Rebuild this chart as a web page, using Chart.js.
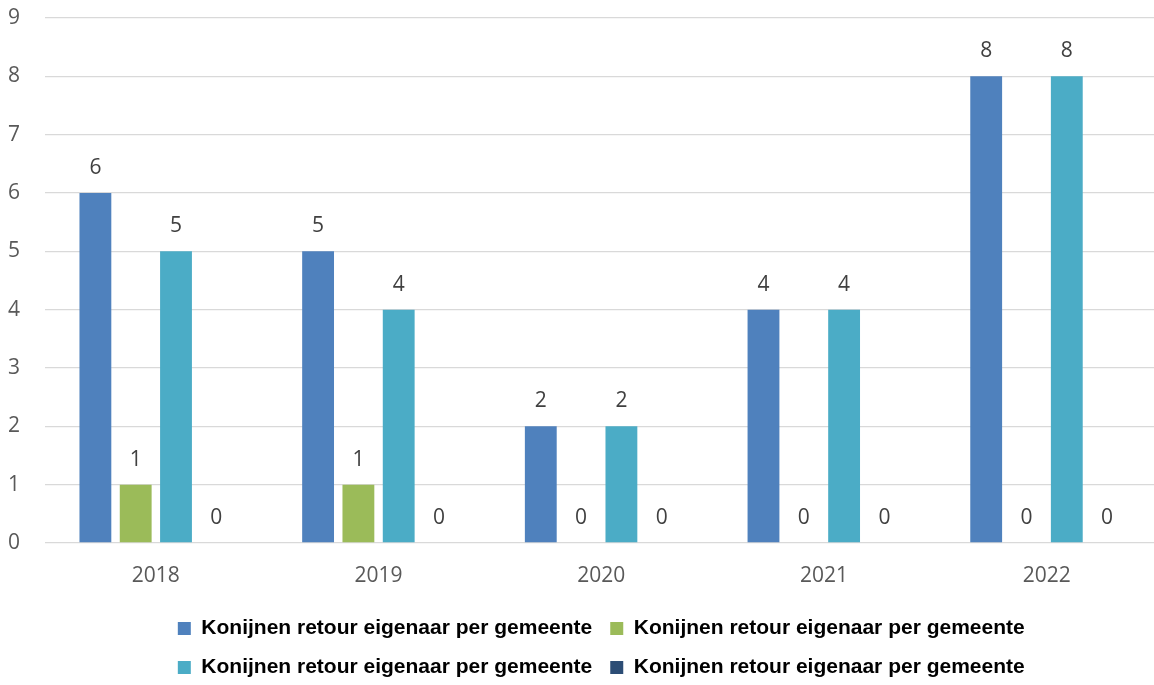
<!DOCTYPE html>
<html>
<head>
<meta charset="utf-8">
<script src="https://cdn.jsdelivr.net/npm/chart.js@4.4.1/dist/chart.umd.min.js"></script>
<style>
html,body{margin:0;padding:0;background:#fff;overflow:hidden;}
#wrap{position:relative;width:1158px;height:685px;}
</style>
</head>
<body>
<div id="wrap"><canvas id="c" width="1158" height="685"></canvas></div>
<script>
const categories = ["2018", "2019", "2020", "2021", "2022"];
const seriesLabel = "Konijnen retour eigenaar per gemeente";
const series1 = [6, 5, 2, 4, 8];
const series2 = [1, 1, 0, 0, 0];
const series3 = [5, 4, 2, 4, 8];
const series4 = [0, 0, 0, 0, 0];
const yTicks = [0, 1, 2, 3, 4, 5, 6, 7, 8, 9];

const colors = ["#4F81BD", "#9BBB59", "#4BACC6", "#2C4D75"];
const allSeries = [series1, series2, series3, series4];

const valueLabels = {
  id: 'valueLabels',
  afterDatasetsDraw(chart) {
    const ctx = chart.ctx;
    ctx.save();
    ctx.font = '21px "Open Sans"';
    ctx.fillStyle = '#404040';
    ctx.textAlign = 'center';
    ctx.textBaseline = 'alphabetic';
    chart.data.datasets.forEach((ds, di) => {
      const meta = chart.getDatasetMeta(di);
      meta.data.forEach((el, i) => {
        ctx.fillText(String(ds.data[i]), el.x, el.y - 19);
      });
    });
    ctx.restore();
  }
};

new Chart(document.getElementById('c'), {
  type: 'bar',
  data: {
    labels: categories,
    datasets: allSeries.map((d, i) => ({
      label: seriesLabel,
      data: d,
      backgroundColor: colors[i],
      borderWidth: 0,
      categoryPercentage: 0.724,
      barPercentage: 0.79
    }))
  },
  options: {
    responsive: false,
    animation: false,
    devicePixelRatio: 1,
    layout: { padding: { top: 18, left: 8, right: 0, bottom: -3 } },
    plugins: {
      tooltip: { enabled: false },
      legend: {
        position: 'bottom',
        fullSize: false,
        labels: {
          boxWidth: 13,
          boxHeight: 13,
          padding: 18,
          color: '#000000',
          font: { family: '"Liberation Sans"', size: 21, weight: 'bold' }
        }
      }
    },
    scales: {
      x: {
        grid: { display: false, drawTicks: false },
        border: { display: false },
        ticks: { color: '#595959', font: { family: '"Open Sans"', size: 21 }, padding: 20 },
        afterFit(scale) { scale.height = 57; }
      },
      y: {
        min: 0,
        max: 9,
        afterBuildTicks(scale) { scale.ticks = yTicks.map(v => ({ value: v })); },
        grid: { color: '#D9D9D9', lineWidth: 1.3, drawTicks: false },
        border: { display: false },
        ticks: { color: '#595959', font: { family: '"Open Sans"', size: 21 }, padding: 3, crossAlign: 'far' },
        afterFit(scale) { scale.width = 36.5; }
      }
    }
  },
  plugins: [valueLabels]
});
</script>
</body>
</html>
